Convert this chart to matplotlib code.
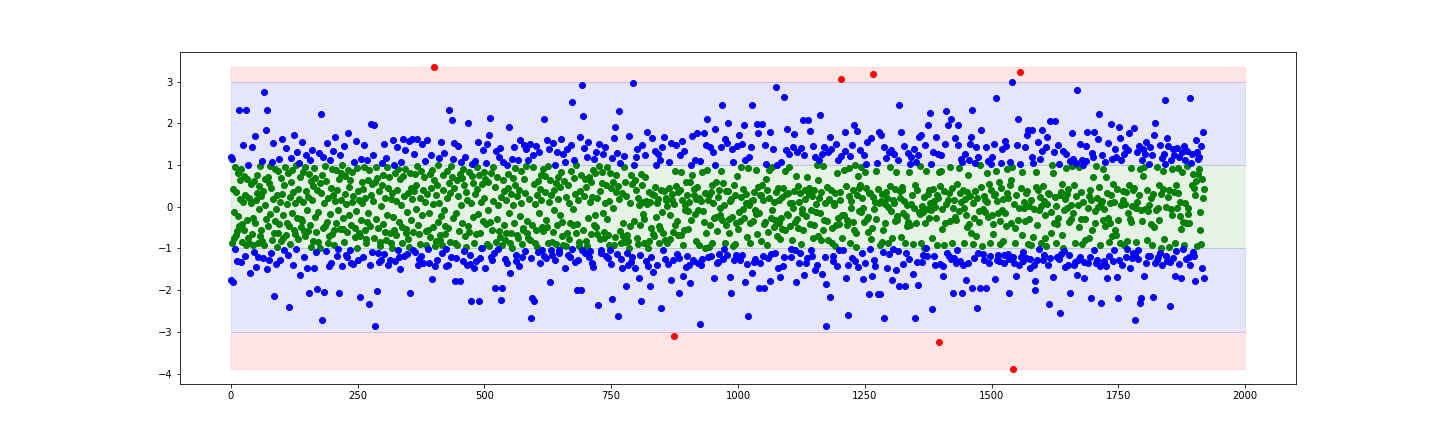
import numpy as np
import matplotlib
matplotlib.use("Agg")
import matplotlib.pyplot as plt

# y values (in hundredths) for sample index 0..1919
y_hundredths = [
118, -175, 115, -88, -180, 42, -76, -12, 95, -101, 35, -68, -130, -58, -22, 81, 233, -47, 19, 64,
-132, 90, -41, -85, 148, 12, -55, 73, -118, 29, 233, -93, 66, -31, 101, -74, 22, -87, -160, 54,
8, 142, -66, -27, -93, -108, 61, 170, -39, 15, -145, 77, 34, -88, -120, -5, 49, -71, 97, 25,
-56, 110, -83, -124, 38, 274, -91, 67, 3, 185, -29, 233, -150, 71, -46, -128, 56, -17, 98, -112,
44, 106, -79, 19, 152, -213, -63, -34, 91, -6, -138, -97, 27, -62, 85, 114, -41, 12, -127, 69,
-83, 31, 162, -19, -74, -105, 52, 95, -68, 140, 6, -38, 80, -115, -240, -47, 23, -90, 117, 60,
-14, 88, -139, 36, 172, -57, 9, -65, -102, 99, -26, 132, 43, -77, 18, 104, -164, 71, -49, -30,
155, -35, 82, 11, -121, -59, 94, -70, 125, 37, -9, -146, -58, 24, -208, 78, 113, -44, 61, -96,
16, 137, -83, 50, -147, 92, -24, 68, -108, -61, -198, 40, -84, -13, 129, -99, 57, 223, 33, -272,
75, -52, 119, 8, -204, -46, 97, -107, 62, 152, -36, 21, -88, -143, -70, -18, 111, -134, 45, 90,
-65, 28, 134, -93, -56, 13, 167, -40, 87, -119, 39, -102, -7, -206, 66, 125, -53, 81, 15, -142,
99, -28, -54, 145, -84, 30, 73, -116, 7, -121, -60, 89, 177, -21, 48, -103, 63, -136, -45, 11,
83, -137, 25, 106, -72, -52, 158, -11, 92, -99, 38, -127, -64, 17, -70, -216, 115, -33, 60, 9,
-120, 43, 96, 149, -57, 21, -78, -86, 112, -36, -15, 65, -233, 88, -140, -47, 198, 27, -108, 55,
13, 124, -76, 195, 58, -285, 94, -30, -203, 69, -110, -52, 37, -133, -95, -84, 2, -128, 51, 105,
-42, 76, 150, -113, 22, -60, -81, 117, 95, -19, 44, -140, 71, -129, -63, 18, -87, -98, 33, 161,
-25, 101, -57, -131, 80, 14, -69, 144, 39, -104, 90, -121, -36, 67, -150, 4, 108, -48, -87, 162,
73, -118, 26, 91, 135, -54, -62, -12, -113, -77, 34, 157, -97, -206, 81, 46, -31, 162, 19, -104,
-60, 37, 126, 79, -109, 53, -5, 162, 97, -44, -140, -126, -66, 22, -89, -118, 85, -20, 150, 41,
-135, 70, 12, 109, -59, -93, 31, 160, -101, -56, -16, -134, 78, -72, 45, 123, -173, 87, 6, -48,
335, 64, -94, -142, 29, -83, -129, 51, 99, -37, 116, 10, -79, -68, 154, -23, -92, -112, 40, 75,
-8, 128, -66, -47, -101, -143, 86, 20, -51, -139, 233, 57, -85, 33, 97, -121, 208, 72, -28, 114,
153, 44, -177, -88, -14, -122, 63, -92, 145, 26, -58, 79, -177, 107, 5, 69, -38, -131, 90, -106,
52, -71, 118, 35, -96, -139, 15, 200, -46, 82, -61, -115, -137, 9, -225, 74, 103, -25, 57, -146,
-87, 30, 110, -66, -131, 94, 42, 155, -18, -225, 77, -124, -63, 11, -98, -100, 55, 136, -34, 83,
20, -148, 67, 105, -41, -89, 150, -7, 58, 173, -94, 213, -36, -120, 81, -127, -56, 14, 95, -111,
-196, 48, -84, 133, -29, 71, 4, -102, 119, -59, -73, 141, 23, -223, -92, -196, 63, 108, -45, 38,
-126, -81, 17, -64, 100, -134, 46, 78, 190, -16, -87, -158, -62, 31, 115, -99, 69, 3, 143, -39,
93, 52, -117, -130, 25, -68, 111, -74, -143, 40, 160, -22, 85, 9, -90, -121, -56, -51, 147, 67,
-107, 34, 98, 138, -35, -62, 113, -75, 19, 151, -80, -124, -267, -44, -220, 96, 123, -225, 55, 7,
-88, -57, 145, 27, -96, -109, 61, -14, 132, 42, -136, 76, 15, -104, -48, 90, -59, 210, -119, 36,
73, -124, -31, 160, -49, -87, 97, 12, 138, -180, 65, -105, 29, -117, -84, -60, 152, 41, -9, 100,
-128, 57, -90, -43, 131, 18, 72, -112, -105, 47, -20, 163, 82, -70, -36, 126, -93, 61, 108, -146,
23, -95, -64, 139, 53, -115, -77, 10, -120, -38, 86, 148, -102, 252, -45, -6, 113, 68, -132, 31,
99, -62, -200, -41, -129, 17, -84, -95, 167, 38, -200, 75, 292, -103, 217, -57, 26, 141, -110, 66,
48, -83, 118, -94, -27, 155, 70, -121, 12, -107, 59, -66, -136, 24, 87, -144, -43, 115, -19, 80,
131, -49, -65, 21, -236, 98, 150, -77, 37, -110, -104, 56, 83, -15, 127, -74, -60, 9, 142, -118,
52, 96, -30, -122, -68, -91, 14, -103, 81, -137, 44, -222, 117, 60, -4, 165, -91, 190, -72, 35,
77, -113, 128, -262, 49, 230, 19, -58, 105, -86, -125, 33, -146, -71, -39, 94, 122, -85, 58, -191,
26, -112, -67, -83, -140, 169, -99, -46, 8, -133, 75, -120, 55, 296, -34, 101, 64, -148, 119, 40,
-76, 138, -89, 22, -172, 4, -115, -43, 79, -225, 51, 149, -18, 12, -30, -87, 124, 70, -131, 13,
178, 7, -98, -141, 35, -83, -191, 11, -121, -52, 31, 164, -156, -66, 27, -71, 134, 48, 101, -25,
-139, 9, 19, 126, -87, -46, 112, -54, -243, 40, 142, -13, -63, -103, 38, 168, -80, -126, 21, 15,
2, -88, -137, 44, 106, -21, -78, 153, -176, 31, 17, -60, -129, 6, -309, 85, -44, 147, 50, -114,
-35, 36, -68, -124, -206, 123, 40, 82, -69, 158, 15, -165, -92, -55, 134, -7, 5, -145, 58, 28,
-118, -54, -11, 12, -140, -183, 60, 101, -32, 170, 76, -131, -127, 43, 29, -17, 112, 18, -83, 176,
47, -135, -9, -92, 20, -282, 109, 14, -140, 84, -125, -11, -37, 177, -99, 33, 149, -62, 88, 210,
-121, 16, -97, 28, 143, -45, 35, -118, -86, 52, 10, 130, -171, -28, 101, 187, -24, 60, -136, -58,
23, -132, 41, -114, -2, -19, 144, 85, 243, -31, 56, -126, 3, -101, -88, 163, -44, 38, 153, -115,
200, 37, -30, -63, -168, 13, -208, 19, 139, -24, -94, 107, 52, -128, -90, 27, -116, -39, 74, 145,
-53, 171, -12, -128, -35, 24, 95, 150, -117, 43, -5, -26, 196, 113, -180, 30, 8, -137, -72, 92,
-263, 4, 120, -40, -86, 13, 142, -159, 243, 17, -34, -133, 36, -9, -126, -17, 89, 198, -65, 47,
176, -195, -14, 29, -135, -82, 27, 198, 51, -119, 17, -195, -41, 148, -36, 66, 103, -93, 40, -124,
-61, 88, 21, 180, -177, -26, -113, -9, 96, 139, -48, 12, -33, -112, 35, 287, 101, -70, -146, 44,
15, -38, -169, -78, -28, 107, -54, 24, -141, 45, -120, 262, -57, 86, 31, 136, -17, 187, 33, -20,
94, 127, -46, 8, -101, -121, -80, 10, 144, -4, 38, 174, -36, -103, -180, 73, 132, -29, -52, 49,
-136, 12, -110, 34, -90, 141, -6, -14, 208, -55, 124, -164, 39, 18, -22, -134, 71, -123, 208, 45,
31, -41, 181, -9, -103, -118, 26, 145, -75, -44, 40, 118, -152, 6, -12, 99, -139, -70, 63, 20,
112, -16, 220, -81, 35, -162, 126, -57, 97, -33, 143, 9, -120, -185, -287, -35, 48, 132, -81, 15,
18, -216, 166, 39, 138, -52, -86, -119, -130, 4, 9, 34, -94, 150, -44, -141, 80, 113, -27, -42,
-103, 15, 36, 306, 122, -74, -21, -105, -19, 87, 134, 180, -171, 49, -31, -43, -140, -260, 93, 25,
121, -86, -2, 13, 148, -122, -37, 41, -55, 196, 99, -130, -97, -62, 28, 182, -144, 74, 46, -11,
53, 137, -13, 95, 20, -111, -174, -3, 125, -37, 83, -135, 46, 102, 156, -29, -61, -24, -210, 33,
34, -101, 165, -77, -166, -50, 318, 24, -128, -5, 12, -141, 85, -30, 104, 43, -210, 9, 178, -92,
-210, 14, 172, 31, -84, -109, -55, 143, -267, 6, -39, 35, 117, -147, 22, -88, -1, -114, 131, 49,
95, -10, 136, -74, -175, 16, -101, 8, 127, -34, 43, 82, -152, -31, -23, -106, 113, -190, 243, 37,
21, 179, -73, 48, 40, -137, -16, 14, 145, -190, -87, -22, -110, 3, -47, 128, -36, 84, -125, 103,
-45, 6, 118, 27, -161, -90, 139, -3, 52, -267, 106, -38, -132, 39, 124, -188, -13, 166, -18, 97,
173, -87, 2, -133, -12, -116, 24, -98, -40, 147, 85, -100, -6, -119, 30, 197, -27, 41, 8, 225,
-9, 103, -245, -76, 131, 42, -119, 13, -1, -140, -28, 168, 29, -93, 21, 126, 83, -324, 50, -137,
86, 125, -53, -5, -167, -141, 38, -92, 151, -40, 230, 7, -112, 15, 197, 32, -118, -34, 96, -126,
210, 46, -88, -2, -206, -122, 17, 164, -25, -135, -33, -104, 54, 149, 195, -11, 93, 32, -131, 115,
12, 107, -206, 41, -140, -88, -4, 19, 126, -176, -19, 36, -48, -134, 75, -42, 111, 26, 150, -64,
168, 232, -195, -90, 9, -123, -28, 104, 38, 144, -71, -243, 22, -110, 119, -11, -36, -195, 99, 48,
183, -94, -6, -113, 25, -129, 17, -13, 142, -195, 81, 11, -24, 109, 54, -136, -118, -87, 39, 102,
-20, 120, -66, -42, 28, 151, -174, 30, 85, 260, -127, 14, -115, -16, 58, -131, -35, -89, 44, 105,
138, -7, -82, 18, -117, -134, -14, 158, -47, 145, 34, 91, -113, 21, -125, -206, 51, 108, -38, 63,
298, 94, -121, -390, -136, 6, -88, -52, -165, 29, 147, -31, 210, -3, -139, 102, 323, 45, -121, -68,
84, -130, -109, -4, 11, -35, 143, 33, -124, 172, 37, -89, 185, -29, 2, -126, -147, -93, 15, 118,
185, -73, 105, -6, -139, -178, -200, 82, 47, -128, -43, 39, 154, -102, -8, 24, 115, -88, 1, 133,
185, 50, -129, 13, -117, -21, -76, 142, -95, 7, 166, 33, -140, 30, -234, 205, -124, -12, -62, 99,
-169, 80, 131, -39, 24, 205, -86, 2, -120, -41, 148, -28, -126, 102, 28, -255, 36, -113, -69, 55,
134, -99, -8, -107, 19, -145, 93, 126, -2, 31, 42, -139, -115, -37, 110, -207, 5, -30, 177, 98,
-16, 115, 52, -140, -133, -88, 26, 104, 279, -163, 3, -127, -48, 94, 150, -120, -30, 35, 112, -89,
101, 11, -171, -133, -81, -29, 109, 146, 180, -136, -3, 26, -74, -120, 40, 16, -220, 128, -55, 71,
118, -104, 180, -11, -38, -135, 97, 21, -127, -1, 163, 48, 222, -91, -142, 8, -230, 14, 124, -33,
90, -131, -6, -46, 107, -142, 72, -172, 33, -28, 152, -85, -119, 10, -40, 27, 198, -71, 114, 54,
-131, 12, -103, 138, -56, -67, 120, -169, 42, -31, -220, -129, 192, 165, -87, 4, 113, -140, 37, 16,
126, -92, 6, 144, 35, -121, -101, -83, -14, 137, 52, 176, -147, -29, 92, -36, -122, 1, -110, 40,
45, 188, -117, -272, -84, -3, 130, 12, -104, -125, 27, 145, 91, -230, -9, -220, 111, -34, 139, 73,
-166, 96, -5, 127, -135, 155, -81, 40, -118, -10, 103, 3, -118, 143, -41, 20, -93, 124, -217, 30,
171, -48, -136, 200, -7, -128, 94, -2, -121, -33, 51, 148, -112, -98, 30, 116, -140, 85, 42, 126,
-78, 102, 255, -1, -119, -131, 165, 24, 145, 41, -97, -132, -238, -6, 113, -19, 90, 138, -123, 35,
125, -88, -165, 52, -107, 141, -3, 93, 34, -137, 118, -22, 11, -54, -170, 84, 130, -102, -36, 145,
-91, 8, 112, -38, -126, 97, 134, -4, -17, -120, -40, 260, -139, 104, 52, 127, -108, 79, -118, 46,
27, -177, 62, 160, -95, 130, 78, 115, 91, 120, -56, -12, 145, -89, -148, 67, 22, 178, 43, -170,
]

band_x = [0, 2000]          # horizontal extent of the shaded bands
inner_limit = 1.0           # green band: |y| < 1
outer_limit = 3.0           # blue band: 1 <= |y| < 3

y = np.array(y_hundredths, dtype=float) / 100.0
x = np.arange(len(y))
y_min, y_max = y.min(), y.max()

fig = plt.figure(figsize=(20, 6), dpi=72)
ax = fig.add_subplot(111)

ax.fill_between(band_x, outer_limit, y_max, color='r', alpha=0.1)
ax.fill_between(band_x, y_min, -outer_limit, color='r', alpha=0.1)
ax.fill_between(band_x, inner_limit, outer_limit, color='b', alpha=0.1)
ax.fill_between(band_x, -outer_limit, -inner_limit, color='b', alpha=0.1)
ax.fill_between(band_x, -inner_limit, inner_limit, color='g', alpha=0.1)

a = np.abs(y)
green = a < inner_limit
blue = (a >= inner_limit) & (a < outer_limit)
red = a >= outer_limit

ax.plot(x[green], y[green], 'o', color='g', markersize=6)
ax.plot(x[blue], y[blue], 'o', color='b', markersize=6)
ax.plot(x[red], y[red], 'o', color='r', markersize=6)

fig.savefig("out.png", dpi=72)
